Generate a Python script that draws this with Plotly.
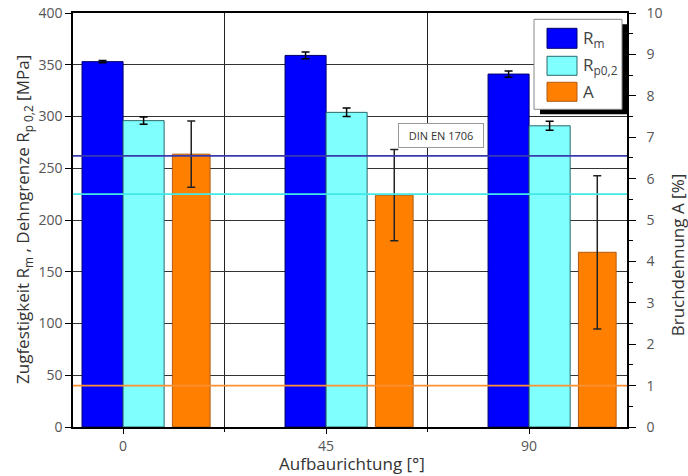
import plotly.graph_objects as go

# ---- data ----
directions = [0, 45, 90]                 # Aufbaurichtung [°]
rm_values = [353, 359, 341]              # R_m [MPa]
rm_errors = [1.0, 3.2, 3.0]
rp_values = [296, 304, 291]              # R_p0,2 [MPa]
rp_errors = [3.6, 4.1, 4.3]
a_values = [6.59, 5.6, 4.22]             # A [%]
a_errors = [0.8, 1.1, 1.85]
din_rm = 262                              # DIN EN 1706 limits
din_rp = 225
din_a = 1.0
x_tick_labels = ["0", "45", "90"]
minor_x = [22.5, 67.5]

# ---- layout geometry (page pixels) ----
W, H = 688, 476
PL, PR, PT, PB = 73, 627, 12.7, 426.7


def px(x):
    return (x - PL) / (PR - PL)


def py(y):
    return (PB - y) / (PB - PT)


TICK_FONT = dict(family="Open Sans", size=14, color="#555555")
TITLE_FONT = dict(family="Open Sans", size=17, color="#333333")

fig = go.Figure()

fig.add_trace(go.Bar(
    x=directions, y=rm_values, width=9.1, offset=-9.1,
    marker=dict(color="#0000ff", line=dict(color="#00006a", width=1)),
    error_y=dict(type="data", array=rm_errors, color="black", thickness=1.5, width=4),
    name="Rm", showlegend=False, yaxis="y"))

fig.add_trace(go.Bar(
    x=directions, y=rp_values, width=9.1, offset=0,
    marker=dict(color="#80ffff", line=dict(color="#2a6a6a", width=1)),
    error_y=dict(type="data", array=rp_errors, color="black", thickness=1.5, width=4),
    name="Rp", showlegend=False, yaxis="y"))

fig.add_trace(go.Bar(
    x=directions, y=a_values, width=8.36, offset=10.93,
    marker=dict(color="#ff8000", line=dict(color="#b05a10", width=1)),
    error_y=dict(type="data", array=a_errors, color="#222222", thickness=1.5, width=4),
    name="A", showlegend=False, yaxis="y2"))

shapes = []
# DIN limit lines (above bars)
shapes.append(dict(type="line", xref="paper", yref="y", x0=0, x1=1, y0=din_rm, y1=din_rm,
                   line=dict(color="#3a3ab0", width=1.6), layer="above"))
shapes.append(dict(type="line", xref="paper", yref="y", x0=0, x1=1, y0=din_rp, y1=din_rp,
                   line=dict(color="#40e8e8", width=1.6), layer="above"))
shapes.append(dict(type="line", xref="paper", yref="y2", x0=0, x1=1, y0=din_a, y1=din_a,
                   line=dict(color="#ff9030", width=1.6), layer="above"))

# legend box with shadow
shapes.append(dict(type="rect", xref="paper", yref="paper", x0=px(540), x1=px(628),
                   y0=py(114), y1=py(24), fillcolor="black", line=dict(width=0), layer="above"))
shapes.append(dict(type="rect", xref="paper", yref="paper", x0=px(534), x1=px(622),
                   y0=py(109), y1=py(19), fillcolor="white",
                   line=dict(color="#888888", width=1), layer="above"))
swatches = [("#0000ff", "#00006a", 28, 48), ("#80ffff", "#2a6a6a", 56, 75), ("#ff8000", "#b05a10", 82, 101)]
for fill, edge, y0, y1 in swatches:
    shapes.append(dict(type="rect", xref="paper", yref="paper", x0=px(547), x1=px(577),
                       y0=py(y1), y1=py(y0), fillcolor=fill,
                       line=dict(color=edge, width=1), layer="above"))

annotations = []
legend_texts = [("R<sub>m</sub>", 38), ("R<sub>p0,2</sub>", 65.5), ("A", 91.5)]
for txt, yc in legend_texts:
    annotations.append(dict(xref="paper", yref="paper", x=px(581), y=py(yc), text=txt,
                            showarrow=False, xanchor="left", yanchor="middle",
                            font=dict(family="Open Sans", size=17, color="#444444")))

annotations.append(dict(xref="paper", yref="paper", x=px(441), y=py(135), text="DIN EN 1706",
                        showarrow=False, xanchor="center", yanchor="middle",
                        bgcolor="white", bordercolor="#999999", borderwidth=1, borderpad=3,
                        width=78, height=17,
                        font=dict(family="Open Sans", size=11, color="#333333")))

# axis titles
annotations.append(dict(xref="paper", yref="paper", x=px(23), y=0.5,
                        text="Zugfestigkeit R<sub>m</sub> , Dehngrenze R<sub>p 0,2</sub> [MPa]",
                        textangle=-90, showarrow=False, xanchor="center", yanchor="middle",
                        font=TITLE_FONT))
annotations.append(dict(xref="paper", yref="paper", x=px(677), y=py(255),
                        text="Bruchdehnung A [%]",
                        textangle=-90, showarrow=False, xanchor="center", yanchor="middle",
                        font=TITLE_FONT))
annotations.append(dict(xref="paper", yref="paper", x=px(352), y=py(463),
                        text="Aufbaurichtung [°]",
                        showarrow=False, xanchor="center", yanchor="middle",
                        font=TITLE_FONT))

fig.update_layout(
    width=W, height=H,
    margin=dict(l=PL, r=W - PR, t=PT, b=H - PB, pad=0, autoexpand=False),
    paper_bgcolor="white", plot_bgcolor="white",
    barmode="overlay",
    showlegend=False,
    shapes=shapes,
    annotations=annotations,
    xaxis=dict(
        range=[-11.1, 111.7], tickvals=directions, ticktext=x_tick_labels,
        ticks="outside", ticklen=5, tickwidth=1, tickcolor="black",
        showline=True, linecolor="black", linewidth=1.5, mirror=True,
        showgrid=False, zeroline=False, tickfont=TICK_FONT, automargin=False,
        ticklabeloverflow="allow",
        minor=dict(tickvals=minor_x, ticks="outside", ticklen=3, tickcolor="black",
                   showgrid=True, gridcolor="#222222", gridwidth=1.2),
    ),
    yaxis=dict(
        range=[0, 400], dtick=50, tick0=0,
        ticks="outside", ticklen=6, tickwidth=1, tickcolor="black",
        showline=True, linecolor="black", linewidth=1.5, automargin=False,
        showgrid=True, gridcolor="#333333", gridwidth=1.2, zeroline=False,
        tickfont=TICK_FONT, ticklabeloverflow="allow",
    ),
    yaxis2=dict(
        range=[0, 10], dtick=1, tick0=0, overlaying="y", side="right",
        ticks="outside", ticklen=7, tickwidth=1, tickcolor="black",
        showline=True, linecolor="black", linewidth=1.5, automargin=False,
        showgrid=False, zeroline=False, tickfont=TICK_FONT,
        ticklabelstandoff=8, ticklabeloverflow="allow",
        minor=dict(dtick=0.5, ticks="outside", ticklen=4, tickcolor="black", showgrid=False),
    ),
)

fig.write_html("out.html", config={"displayModeBar": False},
               post_script="document.body.style.margin='0';")
